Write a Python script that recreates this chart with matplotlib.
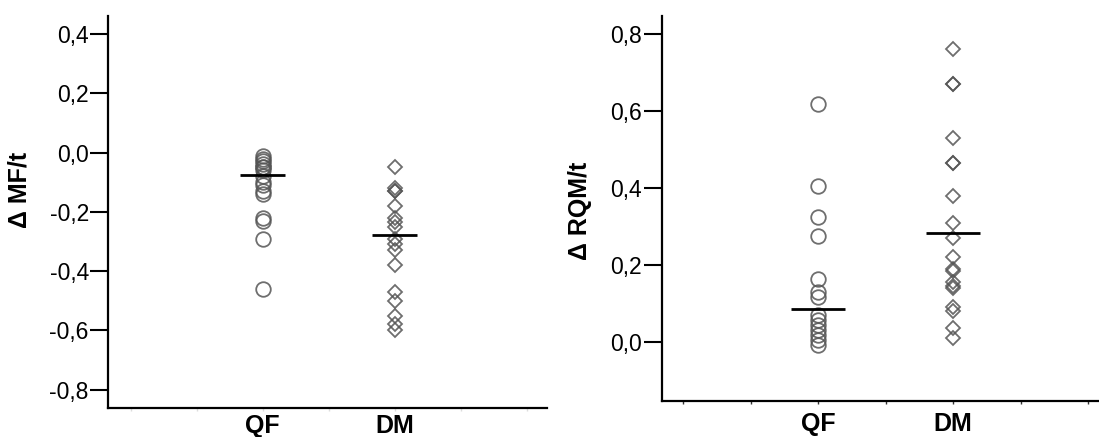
import matplotlib.pyplot as plt
from matplotlib.ticker import FuncFormatter

plt.rcParams['font.family'] = ['Liberation Sans', 'DejaVu Sans']

# 1. Datos
grupos = ['QF', 'DM']

# Panel izquierdo: variación de MF por tiempo
mf_qf = [-0.01, -0.02, -0.03, -0.04, -0.05, -0.05, -0.06, -0.08,
         -0.10, -0.11, -0.13, -0.14, -0.22, -0.23, -0.29, -0.46]
mf_dm = [-0.05, -0.12, -0.13, -0.13, -0.18, -0.22, -0.235, -0.25, -0.29,
         -0.31, -0.33, -0.38, -0.47, -0.50, -0.55, -0.58, -0.60]
mf_media = [-0.076, -0.278]
mf_ticks = [-0.8, -0.6, -0.4, -0.2, 0.0, 0.2, 0.4]

# Panel derecho: variación de RQM por tiempo
rqm_qf = [0.617, 0.405, 0.325, 0.275, 0.163, 0.13, 0.117, 0.07,
          0.056, 0.043, 0.03, 0.017, 0.004, -0.009]
rqm_dm = [0.76, 0.67, 0.67, 0.53, 0.465, 0.465, 0.38, 0.31, 0.27, 0.22,
          0.19, 0.185, 0.155, 0.145, 0.14, 0.09, 0.08, 0.035, 0.01]
rqm_media = [0.084, 0.284]
rqm_ticks = [0.0, 0.2, 0.4, 0.6, 0.8]

coma = FuncFormatter(lambda v, pos: f'{v:.1f}'.replace('.', ','))

fig = plt.figure(figsize=(10.99, 4.37), dpi=100)


def dibujar(ax, qf, dm, media, ticks, ylim, xlim, etiqueta, ancho, color_tick, pad_x):
    # puntos: círculos para QF y rombos para DM
    ax.plot([1] * len(qf), qf, 'o', mfc='none', mec='#555555', ms=10.5, mew=1.3, alpha=0.85)
    ax.plot([2] * len(dm), dm, 'D', mfc='none', mec='#555555', ms=7.5, mew=1.3, alpha=0.85)
    # linea horizontal de la media de cada grupo
    for i, m in enumerate(media):
        ax.hlines(m, i + 1 - ancho, i + 1 + ancho, color='black', lw=2, zorder=5)

    ax.set_xlim(*xlim)
    ax.set_ylim(*ylim)
    ax.set_yticks(ticks)
    ax.yaxis.set_major_formatter(coma)
    ax.set_xticks([1, 2])
    ax.set_xticklabels(grupos, fontsize=18, fontweight='bold')
    ax.set_xticks([0, 0.5, 1.5, 2.5, 3], minor=True)
    ax.tick_params(axis='y', direction='out', length=13, width=1.5, labelsize=16.5, pad=1)
    ax.tick_params(axis='x', which='both', direction='out', length=2.5, width=1,
                   color=color_tick, pad=pad_x)
    for lado in ['top', 'right']:
        ax.spines[lado].set_visible(False)
    for lado in ['left', 'bottom']:
        ax.spines[lado].set_linewidth(1.6)
    ax.set_ylabel(etiqueta, fontsize=18, fontweight='bold')


ax1 = fig.add_axes([0.0985, 0.0664, 0.399, 0.897])
dibujar(ax1, mf_qf, mf_dm, mf_media, mf_ticks, (-0.862, 0.461), (-0.17, 3.15),
        'Δ MF/t', 0.17, '#dddddd', 2)
ax1.yaxis.set_label_coords(-0.174, 0.556)

ax2 = fig.add_axes([0.602, 0.0824, 0.398, 0.881])
dibujar(ax2, rqm_qf, rqm_dm, rqm_media, rqm_ticks, (-0.154, 0.847), (-0.16, 3.08),
        'Δ RQM/t', 0.2, '#333333', 5.5)
ax2.yaxis.set_label_coords(-0.158, 0.495)

fig.savefig('out.png', dpi=100)
